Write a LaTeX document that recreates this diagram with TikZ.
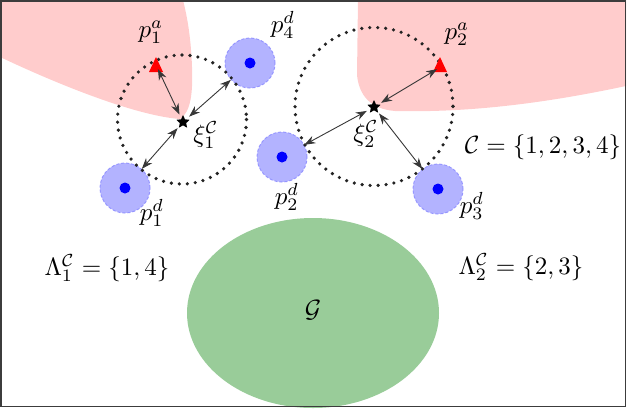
\documentclass[tikz,border=0pt]{standalone}
\usetikzlibrary{arrows.meta,shapes.geometric}
\definecolor{pinkr}{RGB}{255,204,204}
\definecolor{greeng}{RGB}{153,204,153}
\definecolor{diskb}{RGB}{179,179,255}
\definecolor{diskedge}{RGB}{150,150,255}
\definecolor{arrowgray}{RGB}{55,55,55}
\definecolor{dotgray}{RGB}{35,35,35}
\definecolor{framegray}{RGB}{60,60,60}
\begin{document}
\begin{tikzpicture}[x=1pt,y=-1pt,
  disk/.style={circle, minimum size=50pt, inner sep=0pt, fill=diskb, draw=diskedge, line width=1pt, dash pattern=on 3pt off 2pt},
  anchorpt/.style={circle, minimum size=4pt, inner sep=0pt},
  starhub/.style={circle, minimum size=16pt, inner sep=0pt},
  starmark/.style={star, star points=5, star point ratio=2.1, fill=black, minimum size=14pt, inner sep=0pt},
  dotcirc/.style={dotgray, line width=3.6pt, line cap=round, dash pattern=on 0pt off 8pt},
  conn/.style={arrowgray, line width=0.9pt, {Stealth[length=11pt,width=8pt]}-{Stealth[length=11pt,width=8pt]}},
  lbl/.style={inner sep=0pt, scale=2.5}
]
\useasboundingbox (0,0) rectangle (628,408);
% regions
\fill[pinkr] (0,57) .. controls (70,90) and (140,116) .. (180,119)
  .. controls (191,112) and (193,92) .. (192,67)
  .. controls (191,40) and (188,20) .. (183,0) -- (0,0) -- cycle;
\fill[pinkr] (358,0) -- (357,75) .. controls (359,95) and (370,109) .. (395,111)
  .. controls (480,113) and (560,100) .. (626,86) -- (626,0) -- cycle;
\fill[greeng] (313,313) ellipse [x radius=126, y radius=95];
% disks
\node[disk] (p1d) at (125,188) {};
\node[disk] (p2d) at (282,157) {};
\node[disk] (p3d) at (438,189) {};
\node[disk] (p4d) at (250,63) {};
\foreach \n in {p1d,p2d,p3d,p4d} \fill[blue] (\n) circle (5.5);
% dotted circles
\draw[dotcirc] (182,119.5) circle (64.5);
\draw[dotcirc] (374,106.5) circle (79);
% triangles
\fill[red,shift={(156,66)}] (0,-9) -- (7,6) -- (-7,6) -- cycle;
\fill[red,shift={(440,66)}] (0,-9) -- (7,6) -- (-7,6) -- cycle;
\node[anchorpt] (p1a) at (157,67) {};
\node[anchorpt] (p2a) at (439,68) {};
% star hubs
\node[starhub] (xi1) at (183,122) {};
\node[starhub] (xi2) at (374,107) {};
% connectors
\draw[conn] (xi1) -- (p1a);
\draw[conn] (xi1) -- (p4d);
\draw[conn] (xi1) -- (p1d);
\draw[conn] (xi2) -- (p2a);
\draw[conn] (xi2) -- (p2d);
\draw[conn] (xi2) -- (p3d);
\node[starmark] (s1) at (xi1) {};
\node[starmark] (s2) at (xi2) {};
% labels
\node[lbl] (l1a) at (151,32) {$p^a_1$};
\node[lbl] (l2a) at (457,34) {$p^a_2$};
\node[lbl] (l4d) at (283,25) {$p^d_4$};
\node[lbl] (l1d) at (152,213) {$p^d_1$};
\node[lbl] (l2d) at (287,197) {$p^d_2$};
\node[lbl] (l3d) at (472,206) {$p^d_3$};
\node[lbl] (lx1) at (206,135) {$\xi^{\mathcal{C}}_1$};
\node[lbl] (lx2) at (366,134) {$\xi^{\mathcal{C}}_2$};
\node[lbl] (lC) at (543,147) {$\mathcal{C}=\{1,2,3,4\}$};
\node[lbl] (lL1) at (107,268) {$\Lambda^{\mathcal{C}}_1=\{1,4\}$};
\node[lbl] (lL2) at (521,267) {$\Lambda^{\mathcal{C}}_2=\{2,3\}$};
\node[lbl] (lG) at (313,310) {$\mathcal{G}$};
% frame
\draw[framegray, line width=1.5pt] (0.75,0.75) rectangle (625.5,406.5);
\end{tikzpicture}
\end{document}
